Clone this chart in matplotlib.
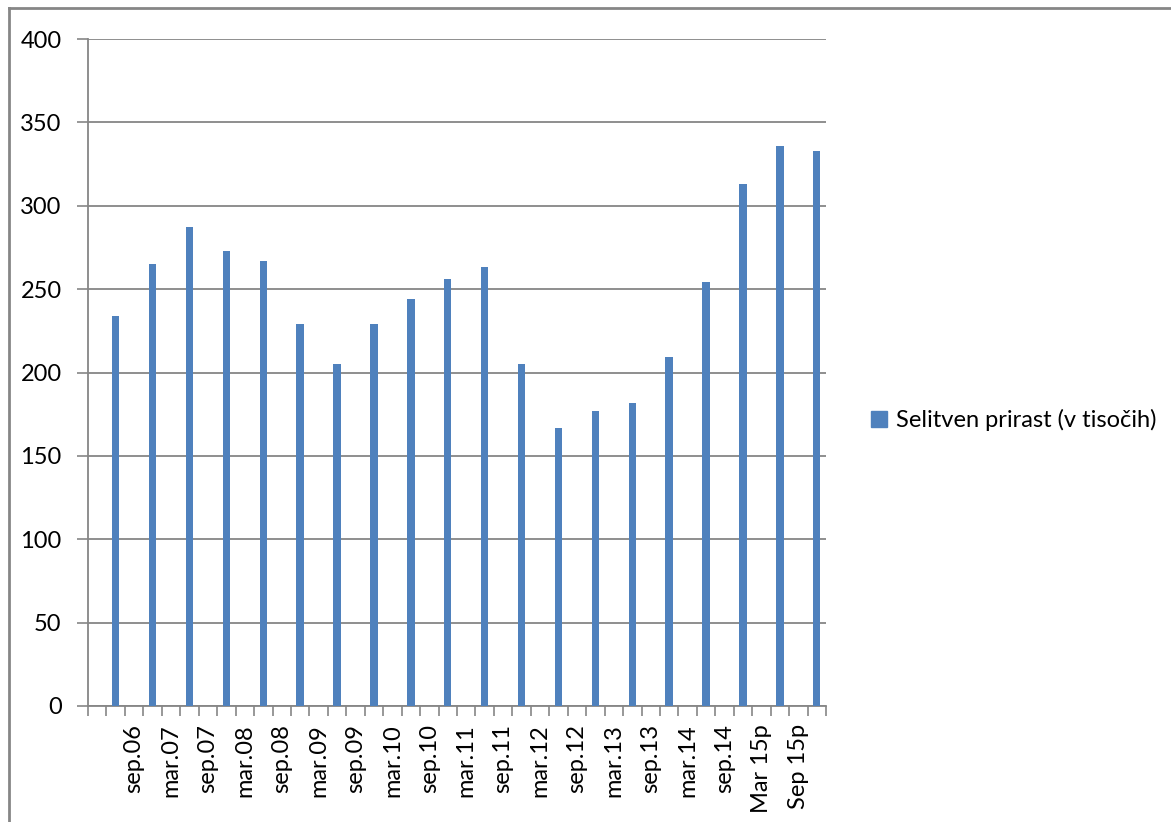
import matplotlib.pyplot as plt
from matplotlib.lines import Line2D
from matplotlib.patches import Patch

# values (thousands)
values = [234, 265, 287, 273, 267, 229, 205, 229, 244, 256,
          263, 205, 167, 177, 182, 209, 254, 313, 336, 333]
labels = ["sep.06", "mar.07", "sep.07", "mar.08", "sep.08", "mar.09", "sep.09",
          "mar.10", "sep.10", "mar.11", "sep.11", "mar.12", "sep.12", "mar.13",
          "sep.13", "mar.14", "sep.14", "Mar 15p", "Sep 15p"]
series_name = "Selitven prirast (v tisočih)"

blue = "#4F81BD"
grey = "#868686"
plt.rcParams['font.family'] = ['Lato', 'DejaVu Sans']

# the sheet alternates label rows and value rows: 40 categories
n_cat = 2 * len(values)
bar_pos = [2 * i + 1.5 for i in range(len(values))]
lab_pos = [2 * j + 2.5 for j in range(len(labels))]

fig = plt.figure(figsize=(11.71, 8.22), dpi=100)
ax = fig.add_axes([88 / 1171, 1 - 706 / 822, 738 / 1171, 667 / 822])

ax.bar(bar_pos, values, width=0.4, color=blue, zorder=3)

ax.set_xlim(0, n_cat)
ax.set_ylim(0, 400)
ax.set_yticks(range(0, 401, 50))
ax.yaxis.grid(True, color=grey, linewidth=1.3)
ax.set_axisbelow(True)

ax.set_xticks(lab_pos)
ax.set_xticklabels(labels, rotation=90, va='top', ha='center')
ax.set_xticks(range(0, n_cat + 1), minor=True)
ax.tick_params(axis='x', which='major', length=0, pad=13, labelsize=17, colors='black')
ax.tick_params(axis='x', which='minor', length=7, width=1.2, color=grey)
ax.tick_params(axis='y', length=8, width=1.2, color=grey, pad=11, labelsize=17)

for s in ['top', 'right']:
    ax.spines[s].set_visible(False)
for s in ['left', 'bottom']:
    ax.spines[s].set_color(grey)
    ax.spines[s].set_linewidth(1.3)

fig.legend(handles=[Patch(color=blue, label=series_name)], loc='center left',
           bbox_to_anchor=(850 / 1171, 1 - 420 / 822), frameon=False, fontsize=17,
           handlelength=0.65, handleheight=0.65, handletextpad=0.4)

# chart area border (left and top visible)
fig.add_artist(Line2D([8.5 / 1171, 8.5 / 1171], [0, 1 - 8.5 / 822], color=grey, linewidth=2,
                      transform=fig.transFigure))
fig.add_artist(Line2D([8.5 / 1171, 1], [1 - 8.5 / 822, 1 - 8.5 / 822], color=grey, linewidth=2,
                      transform=fig.transFigure))

fig.savefig("out.png", dpi=100)
